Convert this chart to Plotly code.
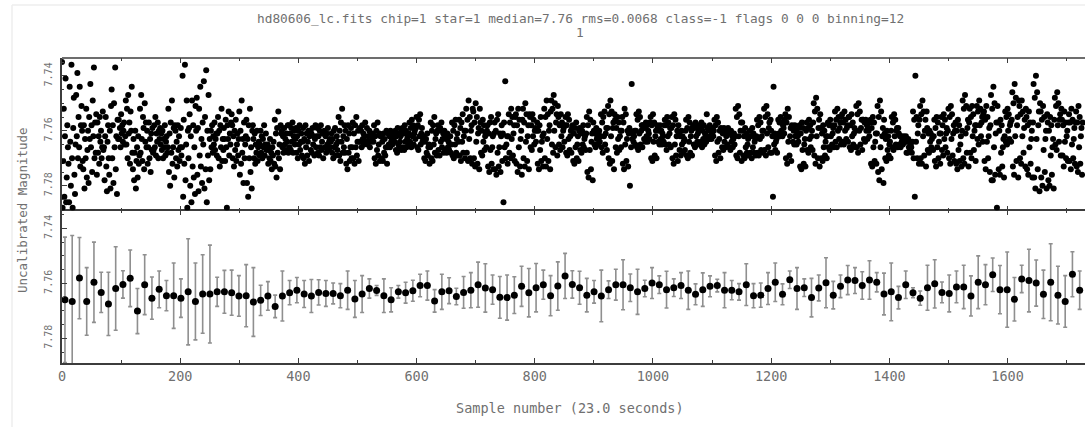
import numpy as np
import plotly.graph_objects as go

# Magnitudes are stored as millimag offsets above this zero point
ZERO_MAG = 7.70

# Unbinned light curve, one value per sample (millimag above 7.70)
raw_mmag = [
    35, 88, 71, 52, 84, 62, 41, 86, 77, 58, 66, 72,
    86, 44, 64, 80, 36, 70, 88, 59, 48, 76, 83, 65,
    47, 62, 39, 70, 55, 66, 44, 73, 58, 51, 60, 71,
    74, 58, 81, 63, 70, 52, 77, 67, 60, 79, 55, 63,
    43, 66, 58, 75, 49, 62, 37, 70, 57, 68, 54, 76,
    57, 68, 62, 72, 55, 64, 60, 70, 66, 53, 67, 66,
    78, 62, 55, 73, 82, 64, 58, 70, 76, 60, 81, 51,
    45, 70, 58, 79, 50, 66, 37, 74, 62, 83, 56, 63,
    56, 63, 59, 66, 54, 61, 58, 64, 60, 57, 65, 62,
    49, 65, 52, 70, 47, 61, 57, 72, 53, 60, 44, 68,
    74, 63, 78, 68, 60, 81, 71, 66, 77, 62, 72, 69,
    52, 68, 47, 63, 71, 55, 59, 74, 50, 64, 57, 66,
    60, 72, 66, 57, 70, 63, 75, 61, 67, 59, 68, 67,
    58, 66, 55, 69, 61, 64, 57, 70, 60, 63, 59, 65,
    61, 67, 60, 70, 63, 66, 58, 69, 64, 62, 68, 66,
    52, 75, 61, 80, 57, 68, 49, 72, 66, 59, 77, 58,
    60, 70, 64, 73, 58, 67, 62, 71, 66, 59, 69, 66,
    40, 84, 56, 72, 36, 78, 65, 49, 88, 60, 70, 59,
    54, 80, 62, 86, 49, 73, 58, 77, 66, 83, 51, 60,
    48, 76, 59, 82, 52, 69, 44, 73, 63, 79, 57, 65,
    42, 81, 55, 74, 38, 86, 60, 69, 47, 78, 63, 74,
    60, 66, 58, 68, 62, 65, 57, 67, 63, 61, 69, 61,
    55, 70, 60, 73, 58, 66, 52, 71, 63, 67, 59, 63,
    71, 56, 66, 88, 58, 63, 53, 69, 61, 65, 57, 54,
    58, 70, 62, 73, 60, 67, 56, 71, 65, 61, 69, 63,
    53, 76, 60, 72, 49, 68, 63, 79, 57, 70, 65, 62,
    56, 79, 63, 84, 58, 70, 52, 75, 66, 81, 60, 58,
    63, 70, 61, 72, 65, 68, 60, 71, 66, 64, 69, 65,
    60, 68, 62, 70, 63, 66, 58, 69, 65, 61, 67, 66,
    65, 72, 67, 70, 63, 71, 68, 74, 66, 69, 64, 72,
    56, 73, 61, 77, 59, 68, 53, 70, 65, 74, 58, 61,
    60, 66, 62, 68, 59, 65, 63, 67, 61, 64, 58, 68,
    58, 66, 61, 67, 59, 64, 57, 68, 62, 60, 65, 63,
    59, 68, 62, 70, 60, 65, 58, 67, 64, 61, 69, 64,
    59, 70, 63, 72, 58, 66, 61, 69, 64, 60, 71, 62,
    60, 67, 61, 68, 59, 65, 62, 69, 63, 58, 66, 62,
    59, 68, 62, 69, 60, 66, 58, 67, 64, 61, 70, 61,
    60, 66, 62, 68, 61, 65, 59, 67, 64, 63, 66, 64,
    61, 68, 63, 70, 60, 66, 59, 69, 65, 62, 67, 64,
    55, 69, 60, 71, 57, 64, 52, 68, 62, 66, 58, 68,
    60, 72, 63, 74, 58, 68, 61, 71, 66, 59, 70, 66,
    57, 70, 61, 72, 58, 66, 55, 69, 64, 60, 71, 64,
    59, 64, 60, 66, 58, 63, 61, 65, 62, 57, 64, 64,
    59, 65, 62, 64, 60, 66, 61, 64, 62, 63, 61, 64,
    58, 70, 62, 72, 60, 67, 57, 69, 65, 61, 71, 62,
    62, 70, 64, 71, 61, 68, 63, 69, 66, 60, 72, 66,
    61, 65, 62, 66, 60, 64, 63, 65, 61, 64, 62, 64,
    60, 67, 62, 68, 59, 65, 61, 66, 64, 62, 67, 60,
    59, 66, 61, 67, 58, 64, 60, 66, 63, 62, 65, 61,
    57, 64, 59, 66, 56, 62, 58, 65, 61, 60, 63, 59,
    55, 66, 58, 67, 56, 62, 54, 65, 61, 59, 64, 63,
    62, 70, 64, 71, 63, 68, 61, 69, 66, 65, 72, 66,
    57, 70, 60, 71, 58, 65, 55, 68, 63, 61, 69, 60,
    58, 67, 60, 69, 59, 64, 57, 66, 63, 61, 68, 60,
    62, 67, 63, 68, 61, 66, 64, 67, 65, 62, 68, 65,
    57, 69, 60, 70, 58, 65, 56, 68, 63, 61, 69, 64,
    56, 69, 59, 71, 57, 64, 54, 68, 62, 60, 70, 60,
    52, 68, 56, 71, 49, 63, 55, 70, 60, 58, 72, 52,
    53, 70, 57, 73, 50, 64, 55, 72, 61, 59, 74, 52,
    57, 68, 60, 69, 56, 64, 58, 67, 62, 61, 66, 60,
    58, 73, 61, 75, 57, 67, 55, 72, 66, 62, 74, 61,
    57, 74, 60, 76, 56, 68, 54, 73, 66, 61, 75, 62,
    58, 71, 61, 86, 57, 66, 42, 70, 65, 62, 72, 62,
    54, 68, 57, 70, 52, 63, 55, 69, 61, 58, 71, 55,
    54, 72, 58, 75, 52, 66, 56, 73, 63, 60, 76, 56,
    52, 70, 57, 73, 50, 64, 54, 71, 62, 58, 74, 54,
    55, 66, 58, 67, 54, 62, 56, 65, 60, 59, 64, 60,
    57, 72, 60, 74, 58, 67, 55, 71, 64, 62, 73, 61,
    52, 70, 55, 73, 49, 63, 54, 71, 60, 58, 74, 53,
    49, 65, 52, 68, 47, 60, 50, 66, 57, 54, 69, 51,
    55, 65, 58, 67, 54, 62, 57, 66, 60, 59, 64, 58,
    55, 68, 58, 69, 54, 63, 56, 67, 62, 60, 68, 59,
    58, 71, 61, 72, 59, 66, 57, 70, 65, 62, 71, 60,
    59, 67, 61, 68, 60, 65, 58, 66, 63, 62, 67, 61,
    55, 75, 58, 77, 53, 67, 56, 74, 64, 61, 78, 57,
    60, 65, 61, 66, 59, 63, 62, 65, 61, 60, 64, 62,
    54, 66, 57, 68, 55, 62, 53, 65, 61, 59, 67, 59,
    51, 70, 54, 72, 49, 62, 53, 71, 59, 57, 74, 54,
    56, 66, 59, 68, 55, 63, 57, 67, 62, 60, 66, 60,
    55, 72, 57, 74, 52, 65, 54, 71, 63, 60, 73, 61,
    59, 80, 60, 66, 43, 63, 61, 64, 62, 60, 65, 60,
    54, 66, 56, 67, 53, 61, 55, 65, 60, 58, 66, 58,
    58, 63, 59, 64, 57, 62, 58, 64, 60, 61, 63, 57,
    55, 70, 58, 71, 54, 64, 57, 69, 62, 60, 70, 58,
    59, 64, 60, 65, 58, 63, 60, 65, 61, 62, 64, 58,
    56, 65, 58, 67, 55, 62, 57, 65, 61, 59, 66, 59,
    55, 70, 58, 72, 54, 65, 56, 69, 62, 60, 71, 58,
    61, 67, 62, 69, 60, 65, 62, 68, 64, 63, 67, 60,
    56, 69, 59, 70, 55, 64, 57, 68, 62, 60, 69, 59,
    58, 65, 59, 66, 57, 62, 58, 64, 61, 60, 65, 58,
    59, 64, 57, 66, 60, 63, 58, 65, 61, 62, 64, 54,
    59, 63, 60, 63, 58, 62, 60, 63, 61, 59, 62, 60,
    56, 69, 58, 71, 55, 64, 57, 68, 63, 60, 70, 59,
    60, 66, 61, 67, 59, 64, 60, 66, 62, 61, 65, 59,
    60, 66, 61, 67, 60, 64, 62, 66, 63, 61, 65, 62,
    52, 69, 55, 70, 51, 62, 54, 68, 60, 57, 71, 57,
    60, 69, 62, 70, 59, 66, 61, 68, 65, 63, 69, 62,
    60, 68, 62, 70, 59, 66, 61, 68, 64, 63, 69, 62,
    56, 68, 58, 69, 55, 63, 57, 67, 62, 60, 68, 60,
    52, 67, 55, 69, 51, 61, 54, 66, 59, 57, 68, 56,
    60, 68, 62, 84, 44, 65, 61, 67, 64, 63, 68, 62,
    56, 61, 57, 62, 55, 60, 57, 62, 58, 59, 61, 56,
    54, 70, 57, 72, 52, 64, 55, 69, 62, 59, 71, 58,
    59, 64, 60, 65, 58, 62, 60, 65, 61, 62, 64, 59,
    58, 73, 61, 74, 57, 67, 59, 72, 65, 63, 73, 60,
    57, 67, 59, 68, 56, 63, 58, 66, 62, 60, 67, 57,
    50, 69, 53, 72, 48, 62, 52, 70, 59, 56, 73, 54,
    59, 70, 61, 71, 58, 66, 60, 69, 64, 62, 70, 62,
    57, 66, 58, 67, 56, 62, 58, 65, 61, 59, 66, 58,
    53, 64, 56, 66, 52, 60, 55, 63, 59, 57, 65, 55,
    54, 64, 57, 65, 53, 60, 56, 63, 59, 58, 64, 55,
    55, 66, 58, 67, 54, 62, 57, 65, 61, 59, 66, 60,
    51, 66, 54, 68, 50, 60, 53, 65, 59, 56, 67, 56,
    56, 63, 57, 64, 56, 60, 58, 63, 59, 60, 62, 57,
    56, 72, 59, 73, 55, 66, 57, 71, 64, 61, 72, 61,
    51, 75, 55, 78, 49, 66, 53, 74, 62, 59, 79, 56,
    61, 70, 63, 71, 60, 67, 62, 69, 65, 64, 70, 60,
    55, 66, 57, 67, 54, 62, 56, 65, 60, 59, 66, 59,
    61, 65, 62, 66, 62, 64, 63, 65, 62, 64, 63, 64,
    62, 68, 64, 68, 63, 66, 64, 67, 65, 66, 68, 64,
    53, 70, 56, 84, 40, 64, 55, 70, 61, 58, 72, 56,
    51, 70, 54, 72, 49, 62, 53, 69, 60, 56, 73, 53,
    59, 67, 61, 68, 60, 64, 61, 66, 63, 62, 67, 62,
    56, 71, 59, 73, 55, 66, 57, 70, 64, 61, 72, 61,
    55, 67, 58, 69, 54, 63, 56, 66, 61, 59, 68, 60,
    52, 70, 55, 72, 51, 63, 54, 69, 61, 58, 71, 60,
    57, 72, 60, 74, 56, 67, 58, 71, 65, 62, 73, 60,
    49, 70, 52, 72, 47, 61, 51, 68, 59, 56, 73, 57,
    52, 68, 55, 70, 51, 62, 54, 67, 60, 58, 71, 58,
    51, 63, 53, 65, 49, 58, 52, 62, 57, 55, 64, 54,
    53, 71, 56, 74, 51, 64, 55, 70, 62, 59, 75, 58,
    47, 78, 52, 78, 44, 66, 50, 76, 61, 57, 88, 51,
    57, 74, 60, 76, 56, 68, 58, 73, 66, 63, 77, 62,
    53, 64, 55, 65, 52, 60, 54, 63, 58, 57, 64, 56,
    46, 73, 50, 76, 43, 62, 48, 71, 58, 55, 77, 49,
    51, 70, 54, 72, 49, 62, 53, 68, 59, 56, 73, 52,
    55, 74, 58, 76, 53, 66, 57, 72, 63, 60, 77, 57,
    43, 77, 48, 81, 40, 63, 46, 74, 58, 53, 82, 50,
    53, 77, 56, 80, 51, 67, 55, 75, 63, 60, 81, 54,
    57, 78, 60, 80, 55, 69, 58, 76, 66, 63, 81, 56,
    48, 65, 51, 67, 46, 58, 50, 64, 56, 54, 69, 52,
    56, 69, 58, 73, 53, 64, 57, 70, 62, 60, 71, 57,
    54, 71, 57, 74, 52, 65, 56, 70, 63, 59, 72, 57,
    53, 73, 57, 75, 51, 66, 55, 72, 62, 59, 76, 57,
]

# Binned light curve (binning = 12): mean and scatter, millimag above 7.70
bin_mmag = [
    66.0, 66.6, 58.1, 66.6, 59.6, 63.3, 67.5, 61.9, 60.4, 58.2, 70.1, 60.5,
    65.4, 62.2, 64.5, 64.5, 65.4, 63.1, 66.6, 63.9, 63.9, 63.1, 63.1, 63.4,
    64.6, 64.5, 66.8, 66.2, 64.6, 68.4, 64.6, 63.4, 62.5, 63.9, 64.6, 63.3,
    63.7, 63.7, 64.5, 62.5, 65.7, 63.9, 61.9, 62.6, 64.5, 66.0, 63.1, 63.4,
    62.7, 60.8, 60.8, 66.4, 63.1, 62.7, 64.8, 63.3, 62.5, 60.5, 61.7, 62.3,
    65.1, 65.2, 64.3, 61.1, 63.4, 61.6, 60.5, 64.5, 61.0, 57.3, 60.4, 61.6,
    64.3, 63.1, 64.6, 62.3, 60.5, 60.5, 61.6, 63.1, 61.9, 59.9, 60.5, 62.3,
    61.6, 60.8, 62.5, 64.0, 62.3, 61.1, 60.8, 62.5, 62.5, 63.1, 60.5, 64.5,
    64.3, 61.9, 59.6, 64.0, 58.7, 61.9, 61.6, 65.2, 61.7, 59.8, 64.3, 61.1,
    58.8, 59.0, 60.8, 58.8, 59.6, 63.9, 63.1, 65.2, 60.5, 63.4, 65.4, 61.6,
    60.2, 63.3, 63.7, 61.3, 61.3, 64.6, 59.6, 60.5, 56.9, 62.3, 62.3, 65.8,
    58.4, 59.0, 59.9, 64.0, 59.6, 64.3, 66.6, 56.7, 62.5,
]
bin_err_mmag = [
    22.8, 24.0, 14.8, 12.3, 14.6, 7.3, 11.5, 15.2, 5.0, 10.3, 8.2, 10.9,
    7.7, 6.7, 5.5, 11.9, 7.0, 19.3, 14.0, 14.3, 17.8, 5.3, 7.8, 8.2,
    7.4, 11.3, 12.5, 5.5, 5.2, 4.1, 9.1, 4.4, 4.6, 4.9, 6.0, 4.6,
    4.7, 3.8, 4.4, 7.0, 6.7, 6.7, 3.5, 1.8, 6.1, 4.4, 2.3, 3.8,
    3.8, 4.1, 5.3, 4.1, 6.4, 4.7, 3.0, 5.8, 6.4, 8.2, 8.8, 5.3,
    7.6, 8.2, 6.7, 7.3, 8.8, 8.8, 5.3, 7.3, 8.8, 8.2, 5.0, 6.0,
    6.1, 4.1, 9.4, 3.2, 5.6, 9.1, 5.0, 8.2, 3.0, 5.6, 3.2, 6.7,
    3.2, 4.7, 7.0, 3.8, 6.1, 3.8, 2.3, 6.4, 3.5, 3.0, 7.6, 4.4,
    4.4, 5.8, 7.0, 3.8, 3.2, 7.6, 3.2, 7.0, 4.7, 9.1, 5.0, 4.1,
    5.3, 4.7, 5.0, 7.0, 3.5, 7.6, 10.5, 4.1, 5.0, 1.8, 2.6, 8.2,
    8.8, 3.8, 6.7, 5.8, 7.9, 7.3, 9.6, 7.3, 6.1, 8.8, 13.7, 7.9,
    5.0, 11.4, 8.4, 8.8, 14.0, 10.5, 9.4, 8.2, 7.0,
]

title_line1 = "hd80606_lc.fits chip=1 star=1 median=7.76 rms=0.0068 class=-1 flags 0 0 0 binning=12"
title_line2 = "1"
x_title = "Sample number (23.0 seconds)"
y_title = "Uncalibrated Magnitude"

raw_mag = ZERO_MAG + np.array(raw_mmag) / 1000.0
raw_sample = np.arange(len(raw_mag))
bin_mag = ZERO_MAG + np.array(bin_mmag) / 1000.0
bin_err = np.array(bin_err_mmag) / 1000.0
bin_sample = np.linspace(5, 1722, len(bin_mag))

W, H = 1085, 427
ML, MR, MT, MB = 62, 0, 58, 64
PW, PH = W - ML - MR, H - MT - MB
X_MAX = 1731
Y_RANGE = [7.789, 7.7335]

FONT = "DejaVu Sans Mono"
TEXT_COL = "#707070"
AX_COL = "#3c3c3c"
AX_W = 1.6


def px_x(p):
    return (p - ML) / PW


def px_y(p):
    return (H - MB - p) / PH


fig = go.Figure()
fig.add_trace(go.Scatter(
    x=raw_sample, y=raw_mag, mode="markers",
    marker=dict(color="black", size=6, line=dict(width=0)),
    xaxis="x2", yaxis="y", hoverinfo="skip",
))
fig.add_trace(go.Scatter(
    x=bin_sample, y=bin_mag, mode="markers",
    marker=dict(color="black", size=7, line=dict(width=0)),
    error_y=dict(type="data", array=bin_err, visible=True,
                 color="#8f8f8f", thickness=1.6, width=2),
    xaxis="x", yaxis="y2", hoverinfo="skip",
))

common = dict(linecolor=AX_COL, linewidth=AX_W,
              ticks="inside", tickcolor=AX_COL, tickwidth=1, ticklen=5,
              showgrid=False, zeroline=False)

minor_x = dict(tickmode="linear", tick0=0, dtick=100, ticks="inside",
               ticklen=3, tickcolor=AX_COL, showgrid=False)
minor_y = dict(tickmode="linear", tick0=7.74, dtick=0.005, ticks="inside",
               ticklen=2, tickcolor=AX_COL, showgrid=False)

x_common = dict(common, range=[0, X_MAX], tickmode="linear", tick0=0, dtick=200,
                mirror="ticks", minor=minor_x,
                tickfont=dict(family=FONT, size=13.5, color=TEXT_COL))
y_common = dict(common, range=Y_RANGE, tickmode="linear", tick0=7.74, dtick=0.02,
                tickformat=".2f", tickangle=-90, mirror=False, showline=True,
                minor=minor_y, ticklabelstandoff=4,
                tickfont=dict(family=FONT, size=10, color=TEXT_COL))

fig.update_layout(
    width=W, height=H,
    margin=dict(l=ML, r=MR, t=MT, b=MB, pad=0),
    paper_bgcolor="white", plot_bgcolor="white",
    showlegend=False,
    # bottom panel axis draws the lower frame and the shared middle line
    xaxis=dict(x_common, domain=[0, 1], anchor="y2", showline=True),
    # top panel axis only carries ticks; its top edge is drawn as a shape
    xaxis2=dict(x_common, domain=[0, 1], anchor="y", matches="x",
                showticklabels=False, showline=False),
    yaxis=dict(y_common, domain=[0.5, 1], anchor="x2"),
    yaxis2=dict(y_common, domain=[0, 0.5], anchor="x"),
)

# top edge of the upper panel
fig.add_shape(type="line", xref="paper", yref="paper", x0=0, x1=1, y0=1, y1=1,
              line=dict(color=AX_COL, width=AX_W))

fig.add_annotation(text=title_line1, xref="paper", yref="paper",
                   x=px_x(580), y=px_y(18), showarrow=False,
                   font=dict(family=FONT, size=12.8, color=TEXT_COL),
                   xanchor="center", yanchor="middle")
fig.add_annotation(text=title_line2, xref="paper", yref="paper",
                   x=px_x(580), y=px_y(33), showarrow=False,
                   font=dict(family=FONT, size=12.8, color=TEXT_COL),
                   xanchor="center", yanchor="middle")
fig.add_annotation(text=x_title, xref="paper", yref="paper",
                   x=px_x(570), y=px_y(408), showarrow=False,
                   font=dict(family=FONT, size=13.5, color=TEXT_COL),
                   xanchor="center", yanchor="middle")
fig.add_annotation(text=y_title, xref="paper", yref="paper",
                   x=px_x(22), y=px_y(210), showarrow=False,
                   font=dict(family=FONT, size=12.5, color=TEXT_COL),
                   textangle=-90, xanchor="center", yanchor="middle")

# faint outer frame
fig.add_shape(type="line", xref="paper", yref="paper",
              x0=px_x(12), x1=px_x(12), y0=px_y(5), y1=px_y(427),
              line=dict(color="#eeeeee", width=1.5))
fig.add_shape(type="line", xref="paper", yref="paper",
              x0=px_x(12), x1=px_x(1085), y0=px_y(5), y1=px_y(5),
              line=dict(color="#eeeeee", width=1.5))

fig.write_html("out.html")
